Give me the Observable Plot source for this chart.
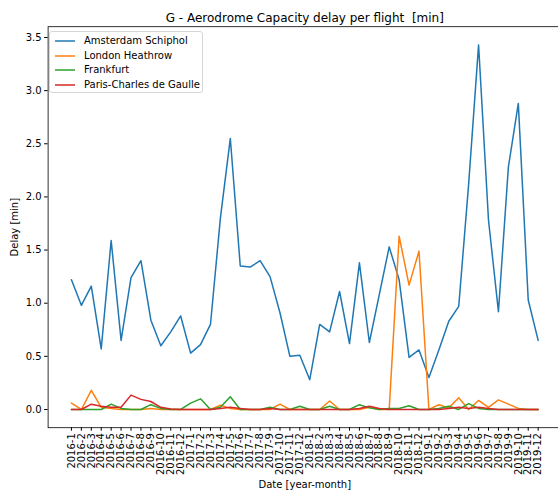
<!DOCTYPE html>
<html>
<head>
<meta charset="utf-8">
<script src="https://cdn.jsdelivr.net/npm/d3@7"></script>
<script src="https://cdn.jsdelivr.net/npm/@observablehq/plot@0.6"></script>
<style>
  html, body { margin: 0; padding: 0; background: #fff; overflow: hidden; }
  #wrap { position: relative; width: 558px; height: 493px; font-family: "DejaVu Sans", sans-serif; }
  #legend { position: absolute; left: 49px; top: 31px; width: 154px; height: 62px; border: 1px solid #d6d6d6; border-radius: 3px; background: rgba(255,255,255,0.8); box-sizing: border-box; font-size: 10px; color: #000; }
  .row { position: absolute; left: 0; height: 12px; line-height: 12px; white-space: nowrap; }
  .row svg { position: absolute; left: 5px; top: 0; }
  .row span { position: absolute; left: 34px; top: 0; }
</style>
</head>
<body>
<div id="wrap"><div id="legend"></div></div>
<script>
const title = "G - Aerodrome Capacity delay per flight  [min]";
const xLabel = "Date [year-month]";
const yLabel = "Delay [min]";

const months = [
  "2016-1","2016-2","2016-3","2016-4","2016-5","2016-6","2016-7","2016-8","2016-9","2016-10","2016-11","2016-12",
  "2017-1","2017-2","2017-3","2017-4","2017-5","2017-6","2017-7","2017-8","2017-9","2017-10","2017-11","2017-12",
  "2018-1","2018-2","2018-3","2018-4","2018-5","2018-6","2018-7","2018-8","2018-9","2018-10","2018-11","2018-12",
  "2019-1","2019-2","2019-3","2019-4","2019-5","2019-6","2019-7","2019-8","2019-9","2019-10","2019-11","2019-12"
];

const yTicks = [0.0, 0.5, 1.0, 1.5, 2.0, 2.5, 3.0, 3.5];

const seriesNames = ["Amsterdam Schiphol", "London Heathrow", "Frankfurt", "Paris-Charles de Gaulle"];
const seriesColors = ["#1f77b4", "#ff7f0e", "#2ca02c", "#d62728"];

const amsterdam = [
  1.22,0.98,1.16,0.57,1.59,0.65,1.24,1.40,0.84,0.60,0.73,0.88,
  0.53,0.61,0.80,1.80,2.55,1.35,1.34,1.40,1.25,0.91,0.50,0.51,
  0.28,0.80,0.73,1.11,0.62,1.38,0.63,1.08,1.53,1.22,0.49,0.56,
  0.30,0.56,0.83,0.97,2.12,3.43,1.78,0.92,2.28,2.88,1.03,0.65
];
const london = [
  0.06,0.00,0.18,0.02,0.01,0.00,0.00,0.00,0.01,0.00,0.00,0.00,
  0.00,0.00,0.00,0.04,0.01,0.00,0.00,0.00,0.00,0.05,0.00,0.00,
  0.00,0.00,0.08,0.00,0.00,0.00,0.02,0.00,0.00,1.63,1.17,1.49,
  0.00,0.045,0.015,0.11,0.00,0.085,0.02,0.09,0.05,0.01,0.00,0.00
];
const frankfurt = [
  0.00,0.00,0.00,0.00,0.05,0.01,0.00,0.00,0.045,0.01,0.00,0.00,
  0.06,0.10,0.00,0.02,0.12,0.00,0.00,0.00,0.02,0.00,0.00,0.03,
  0.00,0.00,0.03,0.00,0.00,0.045,0.015,0.00,0.01,0.01,0.035,0.00,
  0.00,0.01,0.03,0.00,0.055,0.01,0.00,0.00,0.00,0.00,0.00,0.00
];
const paris = [
  0.00,0.00,0.05,0.03,0.02,0.02,0.135,0.095,0.075,0.02,0.005,0.00,
  0.00,0.00,0.00,0.01,0.02,0.01,0.00,0.00,0.01,0.00,0.00,0.00,
  0.00,0.00,0.00,0.00,0.00,0.01,0.03,0.01,0.00,0.00,0.00,0.00,
  0.00,0.00,0.01,0.02,0.01,0.02,0.01,0.00,0.00,0.00,0.00,0.00
];

const seriesValues = [amsterdam, london, frankfurt, paris];

const tables = seriesValues.map((vals, s) => vals.map((v, i) => ({i, v, name: seriesNames[s]})));

const chart = Plot.plot({
  width: 558,
  height: 493,
  marginTop: 26.2,
  marginBottom: 65.8,
  marginLeft: 47.6,
  marginRight: -3,
  style: {fontFamily: "DejaVu Sans, sans-serif", fontSize: "10px", color: "#000", background: "transparent", overflow: "visible"},
  x: {domain: [-2.35, 49.35]},
  y: {domain: [-0.1715, 3.6015]},
  marks: [
    Plot.axisX({ticks: d3.range(months.length), tickFormat: i => months[i], tickRotate: -90, tickSize: 3.5, tickPadding: 2, label: null, fontSize: 10}),
    Plot.axisY({ticks: yTicks, tickFormat: d3.format(".1f"), tickSize: 3.5, tickPadding: 3, label: null, fontSize: 10}),
    ...tables.map((t, s) => Plot.lineY(t, {x: "i", y: "v", stroke: seriesColors[s], strokeWidth: 1.5})),
    Plot.frame({stroke: "#000", strokeWidth: 0.8}),
    Plot.text([title], {frameAnchor: "top", lineAnchor: "middle", textAnchor: "middle", dy: -9, fontSize: 12}),
    Plot.text([xLabel], {frameAnchor: "bottom", lineAnchor: "middle", textAnchor: "middle", dy: 57, fontSize: 10}),
    Plot.text([yLabel], {frameAnchor: "left", lineAnchor: "middle", textAnchor: "middle", dx: -33.5, rotate: -90, fontSize: 10})
  ]
});
document.getElementById("wrap").prepend(chart);

const legend = document.getElementById("legend");
seriesNames.forEach((name, s) => {
  const row = document.createElement("div");
  row.className = "row";
  row.style.top = (3 + s * 14.7) + "px";
  row.style.width = "100%";
  row.innerHTML = `<svg width="22" height="12"><line x1="0" y1="6" x2="20" y2="6" stroke="${seriesColors[s]}" stroke-width="1.5"/></svg><span>${name}</span>`;
  legend.appendChild(row);
});
</script>
</body>
</html>
